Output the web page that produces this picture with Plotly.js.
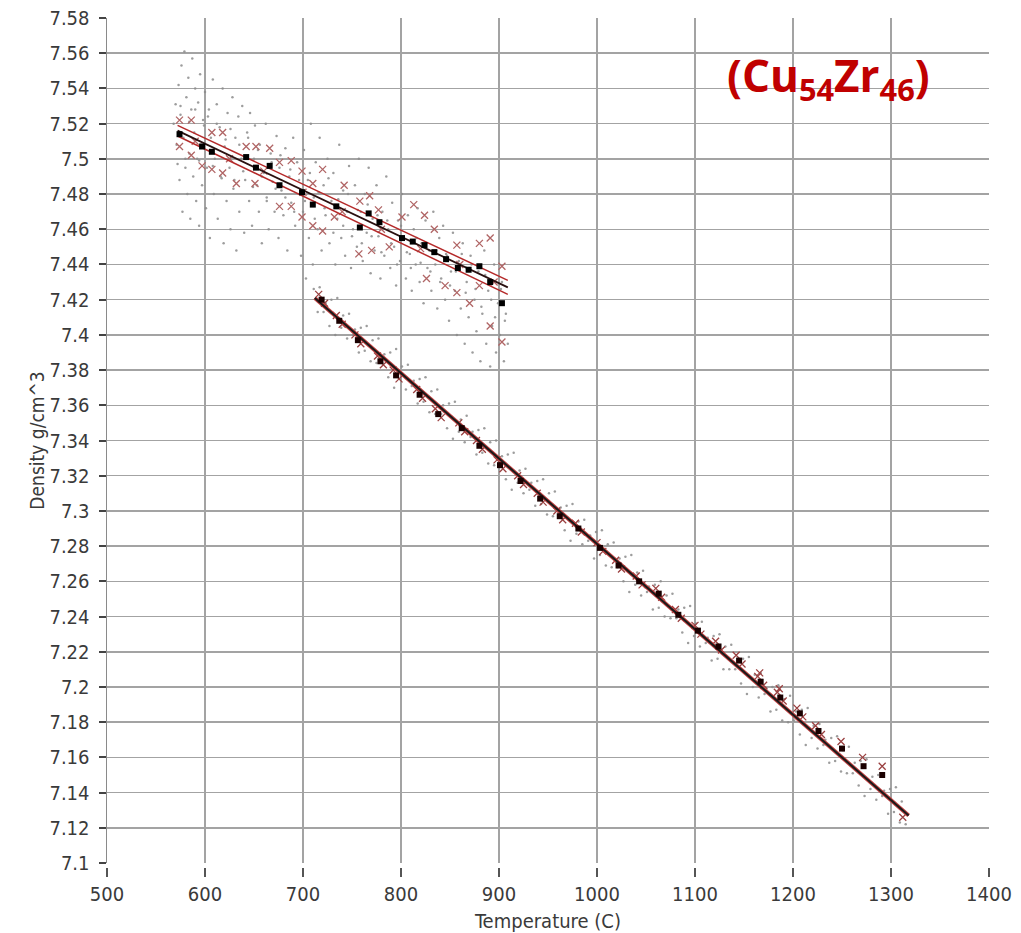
<!DOCTYPE html>
<html>
<head>
<meta charset="utf-8">
<script src="https://cdn.plot.ly/plotly-3.0.1.min.js"></script>
<style>html,body{margin:0;padding:0;background:#fff;}#chart{width:1021px;height:933px;}</style>
</head>
<body>
<div id="chart"></div>
<script>
// ---- Upper run: scattered raw points (gray dots) ----
var upperDotsT = [568,570,571,572,573,574,575,576,577,578,579,580,581,582,583,584,585,586,587,588,589,590,591,592,593,594,595,596,597,598,600,601,602,604,605,606,608,609,610,612,613,615,616,618,619,620,622,623,625,626,628,629,631,632,634,635,637,638,640,641,643,645,646,648,650,651,653,655,656,658,660,662,663,665,667,669,671,673,675,676,678,680,682,684,686,688,690,692,694,696,698,700,701,703,705,706,708,710,711,713,715,717,719,721,723,725,727,729,731,733,735,737,739,741,743,745,747,749,751,753,755,757,759,761,763,765,767,769,771,773,775,777,779,781,783,785,787,789,791,793,795,797,799,801,803,805,807,809,811,813,815,817,819,821,823,825,827,829,831,833,835,837,839,841,843,845,847,849,851,853,855,857,859,861,863,865,867,869,871,873,875,877,879,881,883,885,887,889,891,893,895,897,899,901,903,905,907,909,
  575,580,584,590,594,599,603,608,612,617,621,626,630,635,639,644,649,654,658,663,668,672,677,682,687,691,696,702,707,712,716,722,726,731,736,741,746,750,756,760,766,770,776,780,786,790,796,800,806,810,816,820,826,830,836,840,846,850,856,862,866,872,876,882,886,892,896,902,906];
var upperDotsD = [7.520,7.531,7.508,7.497,7.542,7.488,7.525,7.553,7.470,7.512,7.561,7.495,7.535,7.480,7.546,7.503,7.466,7.528,7.557,7.490,7.515,7.540,7.476,7.500,7.532,7.462,7.548,7.508,7.485,7.522,7.538,7.472,7.495,7.528,7.455,7.512,7.545,7.480,7.500,7.531,7.466,7.518,7.490,7.540,7.452,7.507,7.476,7.526,7.495,7.460,7.535,7.483,7.512,7.448,7.524,7.470,7.500,7.530,7.458,7.488,7.515,7.476,7.526,7.462,7.500,7.519,7.485,7.470,7.508,7.452,7.492,7.520,7.478,7.460,7.503,7.487,7.470,7.513,7.455,7.495,7.482,7.468,7.506,7.448,7.490,7.475,7.512,7.462,7.498,7.480,7.445,7.470,7.505,7.432,7.488,7.455,7.520,7.440,7.478,7.498,7.460,7.512,7.448,7.485,7.468,7.500,7.452,7.476,7.492,7.440,7.466,7.508,7.455,7.482,7.445,7.470,7.496,7.438,7.460,7.485,7.450,7.500,7.470,7.442,7.480,7.458,7.495,7.435,7.466,7.448,7.485,7.456,7.432,7.470,7.445,7.490,7.460,7.438,7.475,7.450,7.428,7.465,7.442,7.480,7.455,7.432,7.468,7.446,7.425,7.460,7.440,7.472,7.430,7.452,7.418,7.465,7.438,7.448,7.425,7.470,7.440,7.415,7.455,7.432,7.462,7.420,7.445,7.408,7.436,7.458,7.425,7.400,7.442,7.415,7.452,7.395,7.430,7.410,7.445,7.390,7.420,7.402,7.436,7.385,7.412,7.448,7.395,7.425,7.382,7.405,7.440,7.390,7.418,7.400,7.430,7.385,7.412,7.395,
  7.530,7.500,7.521,7.528,7.499,7.519,7.524,7.496,7.520,7.489,7.511,7.517,7.488,7.508,7.493,7.512,7.484,7.505,7.490,7.476,7.498,7.483,7.502,7.478,7.494,7.470,7.488,7.476,7.492,7.466,7.481,7.472,7.489,7.458,7.477,7.462,7.480,7.456,7.471,7.452,7.474,7.456,7.468,7.447,7.465,7.452,7.440,7.462,7.447,7.438,7.455,7.441,7.452,7.436,7.448,7.430,7.446,7.428,7.436,7.446,7.424,7.440,7.426,7.416,7.434,7.420,7.410,7.426,7.408];

// ---- Upper run: red crosses ----
var upperCrossT = [574,586,607,618,574,586,597,607,618,632,642,652,666,676,688,676,688,651,699,710,720,742,699,710,720,732,758,768,777,757,770,788,801,813,824,834,857,880,891,826,845,857,870,880,903,891,903,590,625,660,700,740,780,820,860,895];
var upperCrossD = [7.522,7.522,7.515,7.515,7.507,7.502,7.496,7.494,7.492,7.486,7.507,7.507,7.506,7.498,7.499,7.473,7.473,7.486,7.493,7.486,7.494,7.485,7.467,7.462,7.459,7.467,7.476,7.479,7.471,7.446,7.448,7.450,7.467,7.474,7.468,7.460,7.451,7.452,7.455,7.432,7.428,7.424,7.418,7.428,7.439,7.405,7.396,7.510,7.500,7.493,7.481,7.470,7.460,7.449,7.440,7.430];

// ---- Upper run: averaged points (black squares) ----
var upperAvgT = [574,597,607,642,652,666,676,699,710,734,758,767,778,801,812,824,834,846,858,869,880,891,903];
var upperAvgD = [7.514,7.507,7.504,7.501,7.495,7.496,7.485,7.481,7.474,7.473,7.461,7.469,7.464,7.455,7.453,7.451,7.447,7.443,7.438,7.437,7.439,7.430,7.418];

// ---- Upper run: fit and band (line end points) ----
var upperFitT = [572, 909];
var upperFitD = [7.516, 7.427];
var upperBandHiD = [7.519, 7.431];
var upperBandLoD = [7.513, 7.423];

// ---- Lower run: raw points (gray dots) ----
var lowerDotsT = [711,715,717,721,723,727,729,733,735,739,741,745,747,751,753,757,759,763,765,769,771,775,777,781,783,787,789,793,795,799,801,805,807,811,813,817,819,823,825,829,831,835,837,841,843,847,849,853,855,859,861,865,867,871,873,877,879,883,885,889,891,895,897,901,903,907,909,913,915,919,921,925,927,931,933,937,939,943,945,949,951,955,957,961,963,967,969,973,975,979,981,985,987,991,993,997,999,1003,1005,1009,1011,1015,1017,1021,1023,1027,1029,1033,1035,1039,1041,1045,1047,1051,1053,1057,1059,1063,1065,1069,1071,1075,1077,1081,1083,1087,1089,1093,1095,1099,1101,1105,1107,1111,1113,1117,1119,1123,1125,1129,1131,1135,1137,1141,1143,1147,1149,1153,1155,1159,1161,1165,1167,1171,1173,1177,1179,1183,1185,1189,1191,1195,1197,1201,1203,1207,1209,1213,1215,1219,1221,1225,1227,1231,1233,1237,1239,1243,1245,1249,1251,1255,1257,1261,1263,1267,1269,1273,1275,1279,1281,1285,1287,1291,1293,1297,1299,1303,1305,1309,1311,1315];
var lowerDotsD = [7.426,7.413,7.427,7.413,7.418,7.405,7.420,7.400,7.421,7.404,7.411,7.398,7.412,7.400,7.403,7.390,7.404,7.391,7.405,7.385,7.397,7.384,7.398,7.384,7.389,7.376,7.390,7.370,7.392,7.375,7.382,7.369,7.383,7.371,7.374,7.361,7.375,7.362,7.376,7.356,7.368,7.355,7.369,7.355,7.360,7.347,7.361,7.341,7.362,7.345,7.352,7.339,7.354,7.342,7.345,7.332,7.346,7.333,7.347,7.327,7.339,7.326,7.340,7.326,7.331,7.318,7.332,7.312,7.333,7.316,7.323,7.310,7.324,7.312,7.316,7.303,7.317,7.304,7.318,7.298,7.310,7.297,7.311,7.297,7.302,7.289,7.303,7.283,7.304,7.287,7.294,7.281,7.295,7.283,7.286,7.273,7.288,7.275,7.289,7.269,7.281,7.268,7.282,7.268,7.273,7.260,7.274,7.254,7.275,7.258,7.265,7.252,7.266,7.254,7.257,7.244,7.258,7.245,7.260,7.240,7.252,7.239,7.253,7.239,7.244,7.231,7.245,7.225,7.246,7.229,7.236,7.223,7.237,7.225,7.228,7.215,7.229,7.216,7.230,7.210,7.223,7.210,7.224,7.210,7.215,7.202,7.216,7.196,7.217,7.200,7.207,7.194,7.208,7.196,7.199,7.186,7.200,7.187,7.201,7.181,7.193,7.180,7.195,7.181,7.186,7.173,7.187,7.167,7.188,7.171,7.178,7.165,7.179,7.167,7.170,7.157,7.171,7.158,7.172,7.152,7.164,7.151,7.166,7.151,7.157,7.144,7.158,7.138,7.159,7.142,7.149,7.136,7.150,7.138,7.141,7.128,7.142,7.129,7.143,7.123,7.135,7.122];

// ---- Lower run: averaged points (black squares) ----
var lowerAvgT = [719,737,756,779,795,819,838,862,880,901,922,942,962,981,1003,1022,1043,1063,1083,1103,1124,1145,1167,1187,1207,1226,1250,1272,1291];
var lowerAvgD = [7.420,7.408,7.397,7.385,7.377,7.366,7.355,7.347,7.337,7.326,7.317,7.307,7.297,7.290,7.279,7.269,7.260,7.253,7.241,7.232,7.223,7.215,7.203,7.194,7.185,7.175,7.165,7.155,7.150];

// ---- Lower run: red crosses ----
var lowerCrossT = [716,722,734,740,753,759,776,782,792,798,816,822,835,841,859,865,877,883,898,904,919,925,939,945,959,965,978,984,1000,1006,1019,1025,1040,1046,1060,1066,1080,1086,1100,1106,1121,1127,1142,1148,1164,1170,1184,1190,1204,1210,1223,1229,1249,1271,1291,1312,1166,1186];
var lowerCrossD = [7.423,7.418,7.411,7.406,7.400,7.395,7.388,7.383,7.380,7.375,7.369,7.364,7.358,7.353,7.350,7.345,7.340,7.335,7.329,7.324,7.320,7.315,7.310,7.305,7.300,7.295,7.293,7.288,7.282,7.277,7.272,7.267,7.263,7.258,7.256,7.251,7.244,7.239,7.235,7.230,7.226,7.221,7.218,7.213,7.206,7.201,7.197,7.192,7.188,7.183,7.178,7.173,7.169,7.160,7.155,7.126,7.208,7.199];

// ---- Lower run: fit line end points ----
var lowerFitT = [712, 1318];
var lowerFitD = [7.421, 7.127];

// ---- Axis ticks (labels) and grid positions ----
var xTicks = [500,600,700,800,900,1000,1100,1200,1300,1400];
var yTicks = [7.1,7.12,7.14,7.16,7.18,7.2,7.22,7.24,7.26,7.28,7.3,7.32,7.34,7.36,7.38,7.4,7.42,7.44,7.46,7.48,7.5,7.52,7.54,7.56,7.58];
var xGrid = [600,700,800,900,1000,1100,1200,1300];
var yGrid = [7.12,7.14,7.16,7.18,7.2,7.22,7.24,7.26,7.28,7.3,7.32,7.34,7.36,7.38,7.4,7.42,7.44,7.46,7.48,7.5,7.52,7.54,7.56,7.58];

var FONT = 'DejaVu Sans Condensed, DejaVu Sans, sans-serif';
var tickFont = {family: FONT, size: 20, color: '#3a3a3a'};

var traces = [
  {x: [], y: [], xaxis: 'x2', yaxis: 'y2', mode: 'markers', type: 'scatter', hoverinfo: 'skip'},
  {x: upperDotsT, y: upperDotsD, mode: 'markers', type: 'scatter',
   marker: {size: 2.5, color: '#8c8c8c', opacity: 0.85}, hoverinfo: 'skip'},
  {x: lowerDotsT, y: lowerDotsD, mode: 'markers', type: 'scatter',
   marker: {size: 2.5, color: '#8c8c8c', opacity: 0.85}, hoverinfo: 'skip'},
  {x: upperCrossT, y: upperCrossD, mode: 'markers', type: 'scatter',
   marker: {symbol: 'x-thin-open', size: 7, color: '#b06565', line: {width: 1.3, color: '#b06565'}}},
  {x: lowerCrossT, y: lowerCrossD, mode: 'markers', type: 'scatter',
   marker: {symbol: 'x-thin-open', size: 7, color: '#9a4040', line: {width: 1.3, color: '#9a4040'}}},
  {x: lowerFitT, y: lowerFitD, mode: 'lines', type: 'scatter',
   line: {color: '#c04040', width: 4}},
  {x: lowerFitT, y: lowerFitD, mode: 'lines', type: 'scatter',
   line: {color: '#1a1a1a', width: 2}},
  {x: upperFitT, y: upperBandHiD, mode: 'lines', type: 'scatter',
   line: {color: '#b52a2a', width: 1.5}},
  {x: upperFitT, y: upperBandLoD, mode: 'lines', type: 'scatter',
   line: {color: '#b52a2a', width: 1.5}},
  {x: upperFitT, y: upperFitD, mode: 'lines', type: 'scatter',
   line: {color: '#2a1010', width: 1.8}},
  {x: upperAvgT, y: upperAvgD, mode: 'markers', type: 'scatter',
   marker: {symbol: 'square', size: 6, color: '#000'}},
  {x: lowerAvgT, y: lowerAvgD, mode: 'markers', type: 'scatter',
   marker: {symbol: 'square', size: 6, color: '#1a0000'}}
];

var layout = {
  width: 1021, height: 933,
  paper_bgcolor: '#ffffff', plot_bgcolor: '#ffffff',
  showlegend: false,
  margin: {l: 107, r: 32, t: 18, b: 66},
  xaxis: {
    range: [500, 1400], tickvals: xTicks, ticktext: xTicks.map(String),
    anchor: 'free', position: 0,
    showgrid: false, zeroline: false, showline: false,
    ticks: 'outside', ticklen: 9, tickwidth: 1.5, tickcolor: '#555',
    tickfont: tickFont,
    title: {text: 'Temperature (C)', font: {family: FONT, size: 20, color: '#3a3a3a'}, standoff: 10}
  },
  yaxis: {
    range: [7.1, 7.58], tickvals: yTicks, ticktext: yTicks.map(function(v){return String(v);}),
    domain: [0.0047, 1],
    showgrid: false, zeroline: false,
    showline: true, linecolor: '#8a8a8a', linewidth: 1.5,
    ticks: 'outside', ticklen: 7, tickwidth: 2, tickcolor: '#444',
    ticklabelstandoff: 5,
    tickfont: tickFont,
    title: {text: 'Density g/cm^3', font: {family: FONT, size: 19, color: '#3a3a3a'}, standoff: 0}
  },
  xaxis2: {
    overlaying: 'x', matches: 'x', anchor: 'y2', tickvals: xGrid,
    showgrid: true, gridcolor: '#a3a3a3', gridwidth: 1.5,
    showticklabels: false, ticks: '', zeroline: false, showline: false
  },
  yaxis2: {
    overlaying: 'y', matches: 'y', anchor: 'x2', tickvals: yGrid, domain: [0.0047, 1],
    showgrid: true, gridcolor: '#a3a3a3', gridwidth: 1.5,
    showticklabels: false, ticks: '', zeroline: false, showline: false
  },
  annotations: [{
    xref: 'paper', yref: 'paper', x: 0.8175, y: 0.93, xanchor: 'center', yanchor: 'middle',
    text: '<b>(Cu<sub>54</sub>Zr<sub>46</sub>)</b>', showarrow: false,
    font: {family: 'Open Sans, sans-serif', size: 44, color: '#c00000'}
  }]
};

Plotly.newPlot('chart', traces, layout, {displayModeBar: false, staticPlot: true});
</script>
</body>
</html>
